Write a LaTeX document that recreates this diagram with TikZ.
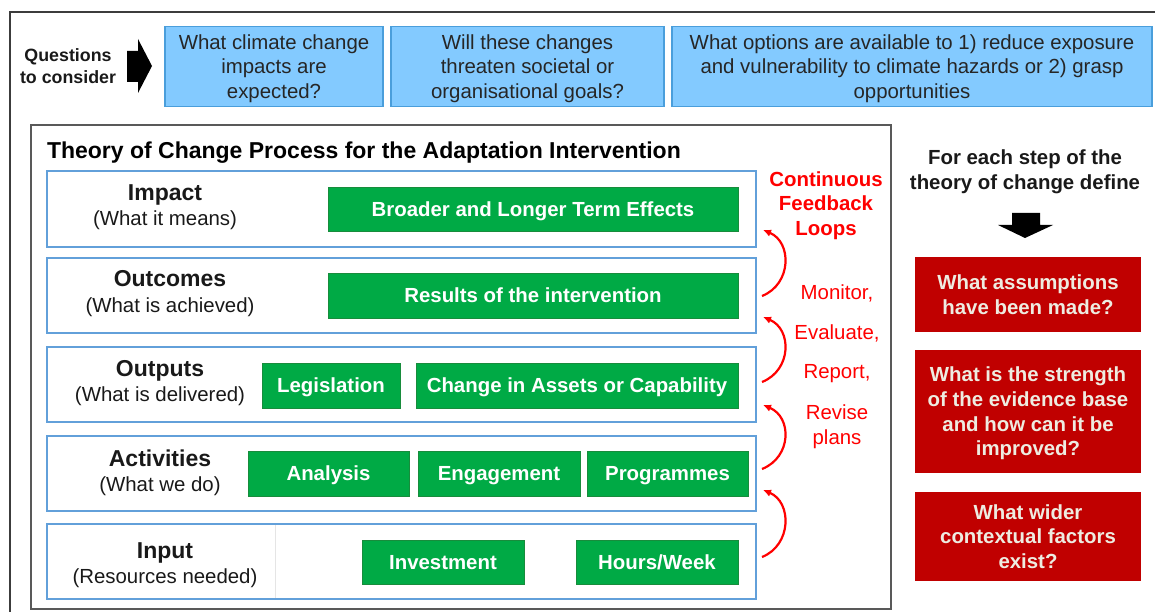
\documentclass[tikz,border=0pt]{standalone}
\usepackage{fontspec}
\setmainfont{Liberation Sans}
\usetikzlibrary{arrows.meta,calc}

\definecolor{qfill}{RGB}{131,202,255}
\definecolor{qline}{RGB}{74,158,219}
\definecolor{qtext}{RGB}{38,38,38}
\definecolor{rowline}{RGB}{98,160,218}
\definecolor{gfill}{RGB}{0,170,69}
\definecolor{gline}{RGB}{24,140,60}
\definecolor{rfill}{RGB}{192,0,0}
\definecolor{rtext}{RGB}{238,236,225}
\definecolor{fbred}{RGB}{255,0,0}
\definecolor{frame}{RGB}{60,60,60}

\newcommand{\stephead}[1]{{\fontsize{23}{26}\selectfont\bfseries #1}\\[0.7pt]}

\begin{document}
\begin{tikzpicture}[x=1pt,y=-1pt,
  font=\fontsize{20.4}{24.6}\selectfont,
  box/.style={inner sep=0pt, outer sep=0pt, align=center},
  qbox/.style={box, draw=qline, fill=qfill, line width=1.2pt, text=qtext, text depth=0pt, minimum height=80pt},
  rowbox/.style={box, draw=rowline, line width=1.5pt, minimum width=709pt},
  gbox/.style={box, draw=gline, fill=gfill, line width=0.6pt, text=white, text depth=0pt, font=\fontsize{20.4}{24.6}\selectfont\bfseries},
  rbox/.style={box, fill=rfill, text=rtext, text depth=0pt, minimum width=226pt, font=\fontsize{20.4}{24.6}\selectfont\bfseries},
  rowlabel/.style={box, text=black!90},
  fbtext/.style={box, text=fbred},
  fb/.style={draw=fbred, line width=2.2pt, -{Latex[length=8pt,width=7.5pt]}},
  blockarrow/.style={fill=black}
]
\useasboundingbox (0,0) rectangle (1155,612);

% outer frame (top and left edges)
\draw[frame, line width=1.5pt] (10,612) -- (10,12) -- (1155,12);

% questions row
\node[box, font=\fontsize{17.8}{21.4}\selectfont\bfseries, text=black!90] (qlabel) at (68,66) {Questions\\to consider};
\fill[blockarrow] (127,51) -- (138,51) -- (138,39) -- (152,66) -- (138,93) -- (138,82) -- (127,82) -- cycle;
\node[qbox, minimum width=218pt] (q1) at (274,66.5) {What climate change\\impacts are\\expected?};
\node[qbox, minimum width=273pt] (q2) at (527.5,66.5) {Will these changes\\threaten societal or\\organisational goals?};
\node[qbox, minimum width=480pt] (q3) at (912,66.5) {What options are available to 1) reduce exposure\\and vulnerability to climate hazards or 2) grasp\\opportunities};

% theory of change frame
\draw[draw=black!65, line width=1.5pt] (31,125) rectangle (891,609);
\node[box, anchor=base west, font=\fontsize{23}{26}\selectfont\bfseries] (title) at (47,159) {Theory of Change Process for the Adaptation Intervention};

% step rows
\node[rowbox, minimum height=76pt] (imp)  at (401.5,209)   {};
\node[rowbox, minimum height=75pt] (outc) at (401.5,295.5) {};
\node[rowbox, minimum height=75pt] (outp) at (401.5,384.5) {};
\node[rowbox, minimum height=75pt] (act)  at (401.5,473.5) {};
\node[rowbox, minimum height=75pt] (inp)  at (401.5,561.5) {};
\draw[black!10, line width=0.8pt] (275,525) -- (275,598);

% row labels
\node[rowlabel] (limp)  at (165,207.5) {\stephead{Impact}(What it means)};
\node[rowlabel] (loutc) at (170,293.5) {\stephead{Outcomes}(What is achieved)};
\node[rowlabel] (loutp) at (160,383) {\stephead{Outputs}(What is delivered)};
\node[rowlabel] (lact)  at (160,472.5) {\stephead{Activities}(What we do)};
\node[rowlabel] (linp)  at (165,565.5) {\stephead{Input}(Resources needed)};

% green elements
\node[gbox, minimum width=410pt, minimum height=44pt] (broader) at (533,209)   {Broader and Longer Term Effects};
\node[gbox, minimum width=410pt, minimum height=45pt] (results) at (533,295.5) {Results of the intervention};
\node[gbox, minimum width=138pt, minimum height=45pt] (legis)   at (331,385.5) {Legislation};
\node[gbox, minimum width=322pt, minimum height=45pt] (assets)  at (577,385.5) {Change in Assets or Capability};
\node[gbox, minimum width=161pt, minimum height=45pt] (analysis) at (328.5,473.5) {Analysis};
\node[gbox, minimum width=162pt, minimum height=45pt] (engage)  at (499,473.5) {Engagement};
\node[gbox, minimum width=161pt, minimum height=45pt] (progr)   at (667.5,473.5) {Programmes};
\node[gbox, minimum width=162pt, minimum height=44pt] (invest)  at (443,562) {Investment};
\node[gbox, minimum width=162pt, minimum height=44pt] (hours)   at (657,562) {Hours/Week};

% feedback loops
\node[fbtext, font=\fontsize{20.4}{24.6}\selectfont\bfseries] (fbtitle) at (826,205.5) {Continuous\\Feedback\\Loops};
\node[fbtext] (monitor)  at (837,293.5) {Monitor,};
\node[fbtext] (evaluate) at (837,333.5) {Evaluate,};
\node[fbtext] (report)   at (837,373.5) {Report,};
\node[fbtext] (revise)   at (837,426.5) {Revise\\plans};

\draw[fb] ($(outc.east)+(6,0.5)$)  .. controls +(30,-12) and +(29,12) .. ($(imp.south east)+(7,-17)$);
\draw[fb] ($(outp.east)+(6,-2.5)$) .. controls +(30,-12) and +(29,12) .. ($(outc.south east)+(7,-16)$);
\draw[fb] ($(act.east)+(6,-4.5)$)  .. controls +(30,-12) and +(29,12) .. ($(outp.south east)+(7,-17)$);
\draw[fb] ($(inp.east)+(6,-4.5)$)  .. controls +(30,-12) and +(29,12) .. ($(act.south east)+(7,-21)$);

% right-hand questions
\node[box, font=\fontsize{20.4}{24.6}\selectfont\bfseries, text=black!90] (rtitle) at (1025,171.5) {For each step of the\\theory of change define};
\fill[blockarrow] (1012,213) -- (1040,213) -- (1040,225) -- (1053,225) -- (1025,238) -- (998,225) -- (1012,225) -- cycle;
\node[rbox, minimum height=75pt]  (ra) at (1028,294.5) {What assumptions\\have been made?};
\node[rbox, minimum height=123pt] (rb) at (1028,411.5) {What is the strength\\of the evidence base\\and how can it be\\improved?};
\node[rbox, minimum height=89pt]  (rc) at (1028,536.5) {What wider\\contextual factors\\exist?};
\end{tikzpicture}
\end{document}
